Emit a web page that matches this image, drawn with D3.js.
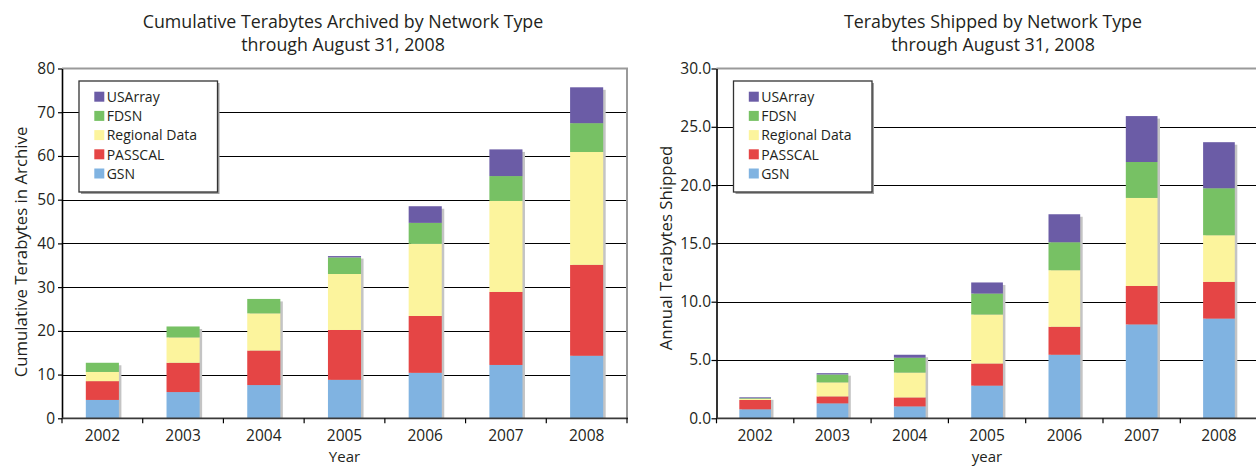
<!DOCTYPE html>
<html>
<head>
<meta charset="utf-8">
<script src="https://cdn.jsdelivr.net/npm/d3@7"></script>
<style>
  html, body { margin: 0; padding: 0; background: #fff; }
  svg { display: block; font-family: "Open Sans", sans-serif; }
</style>
</head>
<body>
<svg id="chart" width="1256" height="466"></svg>
<script>
// ---------- data ----------
const years = ["2002", "2003", "2004", "2005", "2006", "2007", "2008"];
const seriesNames = ["GSN", "PASSCAL", "Regional Data", "FDSN", "USArray"];
const seriesColors = ["#80B3E1", "#E54545", "#FCF49D", "#77C164", "#6B5CA6"];

// Cumulative terabytes archived (segment sizes per network type)
const archGSN      = [4.2, 6.0, 7.6, 8.8, 10.4, 12.2, 14.3];
const archPASSCAL  = [4.3, 6.7, 7.9, 11.4, 13.0, 16.7, 20.8];
const archRegional = [2.1, 5.8, 8.5, 12.8, 16.5, 20.8, 25.8];
const archFDSN     = [2.1, 2.5, 3.3, 3.8, 4.8, 5.7, 6.6];
const archUSArray  = [0, 0, 0, 0.3, 3.8, 6.1, 8.2];

// Annual terabytes shipped (segment sizes per network type)
const shipGSN      = [0.77, 1.28, 1.02, 2.8, 5.45, 8.05, 8.55];
const shipPASSCAL  = [0.8, 0.6, 0.77, 1.9, 2.4, 3.3, 3.15];
const shipRegional = [0.09, 1.2, 2.13, 4.2, 4.85, 7.55, 4.0];
const shipFDSN     = [0.06, 0.68, 1.28, 1.8, 2.4, 3.08, 4.03];
const shipUSArray  = [0.08, 0.11, 0.25, 0.95, 2.4, 3.94, 3.95];

const archTicks = [0, 10, 20, 30, 40, 50, 60, 70, 80];
const shipTicks = [0, 5, 10, 15, 20, 25, 30];

const archTitle = ["Cumulative Terabytes Archived by Network Type", "through August 31, 2008"];
const shipTitle = ["Terabytes Shipped by Network Type", "through August 31, 2008"];

function buildTable(cols) {
  return years.map((yr, i) => {
    const row = { year: yr };
    seriesNames.forEach((s, k) => { row[s] = cols[k][i]; });
    return row;
  });
}

const svg = d3.select("#chart");

function drawPanel(o) {
  const g = svg.append("g");
  const table = buildTable(o.cols);
  const stack = d3.stack().keys(seriesNames)(table);

  const x = d3.scaleBand().domain(years).range([o.x0, o.x1])
    .paddingInner(0.59).paddingOuter(0.295);
  const y = d3.scaleLinear().domain([0, o.ticks[o.ticks.length - 1]]).range([o.yBot, o.yTop]);
  const color = d3.scaleOrdinal().domain(seriesNames).range(seriesColors);

  // gridlines
  g.append("g").selectAll("line")
    .data(o.ticks.filter((t, i) => i > 0 && i < o.ticks.length - 1))
    .join("line")
    .attr("x1", o.x0).attr("x2", o.x1)
    .attr("y1", d => Math.round(y(d)) + 0.5).attr("y2", d => Math.round(y(d)) + 0.5)
    .attr("stroke", "#000").attr("stroke-width", 1.2);

  // frame (top and right)
  g.append("line").attr("x1", o.x0).attr("x2", o.x1 + 1).attr("y1", o.yTop).attr("y2", o.yTop)
    .attr("stroke", "#9a9a9a").attr("stroke-width", 2);
  g.append("line").attr("x1", o.x1).attr("x2", o.x1).attr("y1", o.yTop).attr("y2", o.yBot)
    .attr("stroke", "#9a9a9a").attr("stroke-width", 2);

  // bar shadows
  const totals = table.map(r => d3.sum(seriesNames, s => r[s]));
  g.append("g").selectAll("rect").data(table).join("rect")
    .attr("x", d => x(d.year) + 2.5)
    .attr("y", (d, i) => y(totals[i]) + 2.5)
    .attr("width", x.bandwidth())
    .attr("height", (d, i) => o.yBot - y(totals[i]) - 2.5)
    .attr("fill", "#c4c4c4");

  // stacked bars
  g.append("g").selectAll("g").data(stack).join("g")
    .attr("fill", d => color(d.key))
    .selectAll("rect").data(d => d).join("rect")
    .attr("x", d => x(d.data.year))
    .attr("y", d => y(d[1]))
    .attr("width", x.bandwidth())
    .attr("height", d => Math.max(0, y(d[0]) - y(d[1])));

  // left axis
  const yAxis = d3.axisLeft(y).tickValues(o.ticks).tickFormat(o.fmt)
    .tickSize(o.tickLen).tickSizeOuter(0).tickPadding(o.tickPad);
  const ya = g.append("g").attr("transform", `translate(${o.x0},0)`).call(yAxis);
  ya.select(".domain").attr("stroke", "#000").attr("stroke-width", 1.6);
  ya.selectAll(".tick line").attr("stroke", "#000").attr("stroke-width", 1.2);
  ya.selectAll("text").attr("font-size", 15.5).attr("fill", "#231f20")
    .attr("font-family", "Open Sans, sans-serif");

  // bottom axis: baseline + boundary ticks + labels
  const xAxis = d3.axisBottom(x).tickSize(0).tickSizeOuter(0);
  const xa = g.append("g").attr("transform", `translate(0,${o.yBot})`).call(xAxis);
  xa.select(".domain").remove();
  xa.selectAll("text").attr("dy", null).attr("y", 22.7).attr("font-size", 15.5)
    .attr("fill", "#231f20").attr("font-family", "Open Sans, sans-serif");
  g.append("line").attr("x1", o.x0).attr("x2", o.x1 + 1).attr("y1", o.yBot).attr("y2", o.yBot)
    .attr("stroke", "#3a3a3a").attr("stroke-width", 1.8);
  const bounds = d3.range(years.length + 1).map(i => o.x0 + i * x.step());
  g.append("g").selectAll("line").data(bounds).join("line")
    .attr("x1", d => d).attr("x2", d => d)
    .attr("y1", o.yBot).attr("y2", o.yBot + 5)
    .attr("stroke", "#000").attr("stroke-width", 1.2);

  // titles
  const t = g.append("text").attr("text-anchor", "middle").attr("font-size", 17.8).attr("fill", "#231f20");
  t.append("tspan").attr("x", o.titleX).attr("y", 28).text(o.title[0]);
  t.append("tspan").attr("x", o.titleX).attr("y", 51).text(o.title[1]);

  g.append("text").attr("text-anchor", "middle").attr("font-size", 16.8).attr("fill", "#231f20")
    .attr("transform", `translate(${o.yLabelX},${o.yLabelY}) rotate(-90)`)
    .text(o.yLabel);
  g.append("text").attr("text-anchor", "middle").attr("font-size", 15).attr("fill", "#231f20")
    .attr("x", (o.x0 + o.x1) / 2).attr("y", 461.8).text(o.xLabel);

  // legend
  const lx = o.x0 + 17, ly = o.yTop + 12.5, lw = 138.5, lh = 111;
  const lg = g.append("g").attr("transform", `translate(${lx},${ly})`);
  lg.append("rect").attr("x", 2).attr("y", 2).attr("width", lw).attr("height", lh).attr("fill", "#a0a0a0");
  lg.append("rect").attr("width", lw).attr("height", lh).attr("fill", "#fff")
    .attr("stroke", "#333").attr("stroke-width", 1.3);
  const legendOrder = seriesNames.slice().reverse();
  const items = lg.selectAll("g.item").data(legendOrder).join("g").attr("class", "item")
    .attr("transform", (d, i) => `translate(15.3,${15.7 + i * 19.2})`);
  items.append("rect").attr("x", 0).attr("y", -5).attr("width", 10).attr("height", 10)
    .attr("fill", d => color(d));
  items.append("text").attr("x", 12.4).attr("y", 5.2).attr("font-size", 14).attr("fill", "#231f20")
    .text(d => d);
}

drawPanel({
  cols: [archGSN, archPASSCAL, archRegional, archFDSN, archUSArray],
  ticks: archTicks, fmt: d3.format("d"),
  x0: 62, x1: 627, yTop: 68.5, yBot: 418.3,
  tickLen: 4, tickPad: 3,
  title: archTitle, titleX: 343,
  yLabel: "Cumulative Terabytes in Archive", yLabelX: 27, yLabelY: 252,
  xLabel: "Year"
});

drawPanel({
  cols: [shipGSN, shipPASSCAL, shipRegional, shipFDSN, shipUSArray],
  ticks: shipTicks, fmt: d3.format(".1f"),
  x0: 716.5, x1: 1257.6, yTop: 68.5, yBot: 418.3,
  tickLen: 5, tickPad: 0.5,
  title: shipTitle, titleX: 993,
  yLabel: "Annual Terabytes Shipped", yLabelX: 672, yLabelY: 248,
  xLabel: "year"
});
</script>
</body>
</html>
